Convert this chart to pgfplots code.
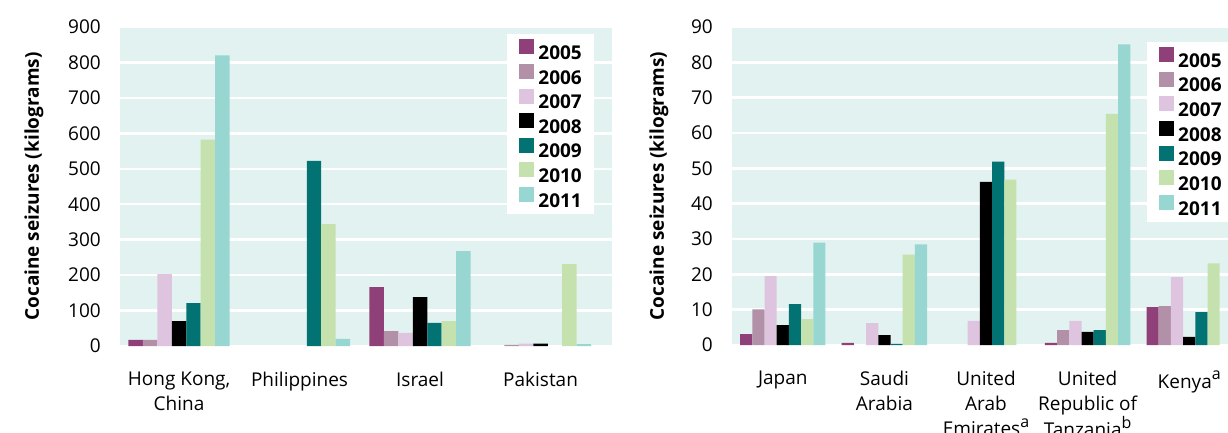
\documentclass[border=0pt]{standalone}
\usepackage{fontspec}
\setmainfont{Open Sans}
\usepackage{pgfplots}
\pgfplotsset{compat=1.18}

\definecolor{cA}{HTML}{904078}
\definecolor{cB}{HTML}{B290A8}
\definecolor{cC}{HTML}{DEC4DE}
\definecolor{cD}{HTML}{000000}
\definecolor{cE}{HTML}{037272}
\definecolor{cF}{HTML}{C5E2AE}
\definecolor{cG}{HTML}{98D6D2}
\definecolor{bgc}{HTML}{E2F2F0}

\newcommand{\fn}[1]{\raisebox{0.45em}{\fontsize{16}{16}\selectfont #1}}

\pgfplotsset{
  seiz/.style={
    scale only axis,
    ybar, bar width=0.12,
    ymin=0,
    axis background/.style={fill=bgc},
    axis line style={draw=none},
    major tick length=0pt,
    ymajorgrids, grid style={white, line width=2.5pt},
    tick label style={font=\fontsize{19}{25}\selectfont},
    /pgf/number format/assume math mode=true,
    yticklabel style={inner sep=0pt, xshift=-19pt},
    xticklabel style={align=center, inner sep=0pt, anchor=north, yshift=-26pt},
    ylabel={Cocaine seizures (kilograms)},
    ylabel style={font=\bfseries\fontsize{19}{22}\selectfont, anchor=center},
    legend cell align=left,
    legend image code/.code={\fill[##1] (0pt,-1pt) rectangle (15pt,14pt);},
    legend style={draw=none, fill=white, anchor=north west,
      font=\bfseries\fontsize{19}{19}\selectfont,
      inner xsep=12pt, inner ysep=5pt, row sep=3pt,
      nodes={inner sep=0pt},
      /tikz/every odd column/.append style={column sep=4pt}},
  },
}

\begin{document}
\begin{tikzpicture}
\useasboundingbox (0pt,0pt) rectangle (1228pt,432pt);

% left panel
\begin{axis}[seiz,
    at={(120pt,86pt)}, anchor=south west,
    width=492pt, height=319pt,
    xmin=-0.49, xmax=3.593, ymax=900, ytick distance=100,
    xtick={0,1,2,3},
    xticklabels={{Hong Kong,\\China},Philippines,Israel,Pakistan},
    ylabel style={at={(axis description cs:-0.175,0.5)}},
    legend style={at={(0.787,0.978)}},
  ]
  \addplot[fill=cA, draw=none, bar shift=-0.36] coordinates {(0,17) (2,166)};
  \addplot[fill=cB, draw=none, bar shift=-0.24] coordinates {(0,17) (2,42) (3,3)};
  \addplot[fill=cC, draw=none, bar shift=-0.12] coordinates {(0,203) (2,37) (3,7)};
  \addplot[fill=cD, draw=none, bar shift=0] coordinates {(0,70) (2,138) (3,7)};
  \addplot[fill=cE, draw=none, bar shift=0.12] coordinates {(0,121) (1,522) (2,65)};
  \addplot[fill=cF, draw=none, bar shift=0.24] coordinates {(0,582) (1,344) (2,70) (3,231)};
  \addplot[fill=cG, draw=none, bar shift=0.36] coordinates {(0,820) (1,20) (2,268) (3,5)};
  \legend{2005,2006,2007,2008,2009,2010,2011}
\end{axis}

% right panel
\begin{axis}[seiz,
    at={(732pt,87pt)}, anchor=south west,
    width=508pt, height=318pt,
    xmin=-0.5, xmax=4.5, ymax=90, ytick distance=10,
    xtick={0,1,2,3,4},
    xticklabels={Japan,{Saudi\\Arabia},{United\\Arab\\Emirates\fn{a}},
      {United\\Republic of\\Tanzania\fn{b}},Kenya\fn{a}},
    ylabel style={at={(axis description cs:-0.144,0.5)}},
    legend style={at={(0.817,0.953)}},
  ]
  \addplot[fill=cA, draw=none, bar shift=-0.36] coordinates {(0,3.1) (1,0.6) (3,0.6) (4,10.7)};
  \addplot[fill=cB, draw=none, bar shift=-0.24] coordinates {(0,10.1) (3,4.2) (4,11.0)};
  \addplot[fill=cC, draw=none, bar shift=-0.12] coordinates {(0,19.5) (1,6.2) (2,6.8) (3,6.8) (4,19.2)};
  \addplot[fill=cD, draw=none, bar shift=0] coordinates {(0,5.6) (1,2.8) (2,46.2) (3,3.7) (4,2.3)};
  \addplot[fill=cE, draw=none, bar shift=0.12] coordinates {(0,11.6) (1,0.3) (2,51.9) (3,4.2) (4,9.3)};
  \addplot[fill=cF, draw=none, bar shift=0.24] coordinates {(0,7.3) (1,25.6) (2,46.8) (3,65.4) (4,23.1)};
  \addplot[fill=cG, draw=none, bar shift=0.36] coordinates {(0,29.0) (1,28.5) (3,85.1)};
  \legend{2005,2006,2007,2008,2009,2010,2011}
\end{axis}
\end{tikzpicture}
\end{document}
